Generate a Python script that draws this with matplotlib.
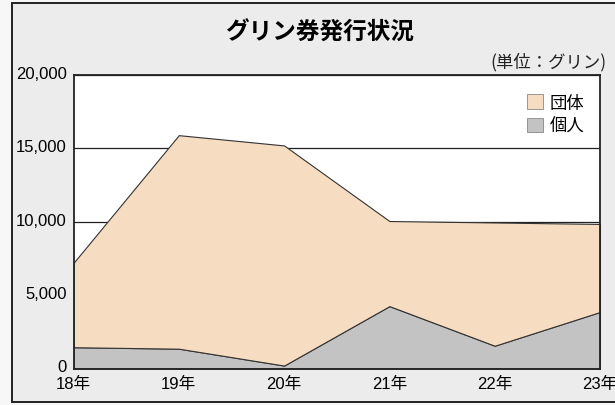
import matplotlib
matplotlib.use("Agg")
import matplotlib.pyplot as plt
import matplotlib.transforms as mtransforms
from matplotlib import font_manager
from matplotlib.patches import Rectangle, Patch

years = ["18年", "19年", "20年", "21年", "22年", "23年"]
kojin = [1450, 1350, 200, 4250, 1550, 3850]      # 個人
dantai = [5750, 14550, 15000, 5800, 8400, 6000]  # 団体
yticks = [0, 5000, 10000, 15000, 20000]
ytick_labels = ["0", "5,000", "10,000", "15,000", "20,000"]

names = {f.name for f in font_manager.fontManager.ttflist}
narrow = "Liberation Sans Narrow" if "Liberation Sans Narrow" in names else "Liberation Sans"
jp = "Noto Sans CJK JP"

fig = plt.figure(figsize=(6.15, 4.06), dpi=100)
fig.patch.set_facecolor("#f7f7f7")
frame = Rectangle((12/615, 1 - 403/406), 1.0, (403 - 3.5)/406,
                  transform=fig.transFigure, facecolor="#ececec",
                  edgecolor="#222222", linewidth=1.4, zorder=-5)
fig.patches.append(frame)

ax = fig.add_axes([73.5/615, 1 - 369.5/406, (600 - 73.5)/615, (369.5 - 76)/406])
ax.set_zorder(2)
ax.set_facecolor("white")
x = list(range(len(years)))
ax.stackplot(x, kojin, dantai, colors=["#c3c3c3", "#f6dcc0"],
             edgecolor="#333333", linewidth=0.8, zorder=2)
for yv in yticks[1:]:
    ax.axhline(yv, color="#222222", linewidth=0.9, zorder=1)
ax.set_xlim(0, len(years) - 1)
ax.set_ylim(0, 20000)
ax.set_yticks(yticks)
ax.set_yticklabels(ytick_labels, fontfamily=[narrow, "DejaVu Sans"], fontsize=12)
ax.set_xticks(x)
ax.set_xticklabels(years, fontfamily=[narrow, jp], fontsize=12)
ax.tick_params(length=0)
ax.tick_params(axis="y", pad=5)
ax.tick_params(axis="x", pad=5)
up = mtransforms.ScaledTranslation(0, 3/100, fig.dpi_scale_trans)
for lbl in ax.get_yticklabels():
    lbl.set_transform(lbl.get_transform() + up)
for s in ax.spines.values():
    s.set_color("#222222")
    s.set_linewidth(1.3)
    s.set_zorder(3)

fig.text(320/615, 1 - 33/406, "グリン券発行状況", ha="center", va="center",
         fontsize=17, fontweight="bold", family=[jp])
fig.text(607/615, 1 - 62/406, "(単位：グリン)", ha="right", va="center",
         fontsize=12.5, family=[jp], color="#222222")

handles = [Patch(facecolor="#f6dcc0", edgecolor="#888888", linewidth=0.6),
           Patch(facecolor="#c3c3c3", edgecolor="#888888", linewidth=0.6)]
ax.legend(handles, ["団体", "個人"], loc="upper right", bbox_to_anchor=(1.0, 0.99),
          frameon=False, prop={"family": [jp], "size": 12.5},
          handlelength=0.9, handleheight=0.9, handletextpad=0.4, labelspacing=0.3)

fig.savefig("out.png", dpi=100, facecolor=fig.get_facecolor())
